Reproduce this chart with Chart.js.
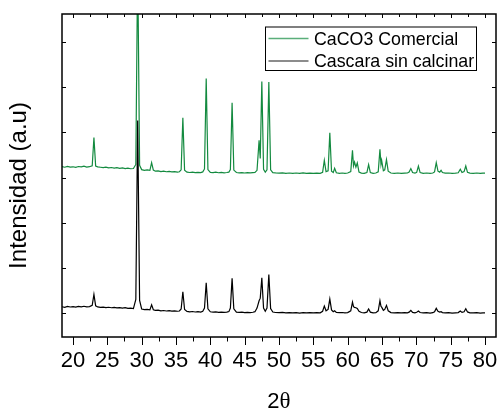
<!DOCTYPE html>
<html>
<head>
<meta charset="utf-8">
<script src="https://cdn.jsdelivr.net/npm/chart.js@4"></script>
<style>
  html, body { margin: 0; padding: 0; background: #fff; }
  #grafico { display: block; }
</style>
</head>
<body>
<canvas id="grafico" width="499" height="410"></canvas>
<script>
// Datos leídos del difractograma: [2theta, intensidad]
// (la curva verde ya está desplazada hacia arriba, como en la figura)
const caco3Comercial = [
  [18.4, 3240], [18.8, 3228], [19.2, 3245], [19.6, 3232], [20.0, 3238], [20.4, 3226], [20.8, 3244],
  [21.2, 3236], [21.6, 3250], [22.0, 3232], [22.4, 3240], [22.8, 3262], [23.05, 3883], [23.3, 3252],
  [23.6, 3236], [24.0, 3228], [24.4, 3220], [24.8, 3232], [25.2, 3214], [25.6, 3222], [26.0, 3210],
  [26.4, 3218], [26.8, 3205], [27.2, 3212], [27.6, 3198], [28.0, 3206], [28.4, 3194], [28.8, 3200],
  [29.15, 3290], [29.42, 7800], [29.7, 3270], [30.0, 3175], [30.4, 3160], [30.8, 3168], [31.2, 3158],
  [31.45, 3330], [31.7, 3165], [32.0, 3140], [32.4, 3146], [32.8, 3132], [33.2, 3140], [33.6, 3128],
  [34.0, 3136], [34.4, 3125], [34.8, 3132], [35.2, 3122], [35.5, 3128], [35.75, 3170], [36.0, 4325],
  [36.25, 3160], [36.6, 3120], [37.0, 3112], [37.4, 3120], [37.8, 3108], [38.2, 3116], [38.6, 3110],
  [38.9, 3125], [39.15, 3190], [39.4, 5194], [39.65, 3175], [40.0, 3115], [40.4, 3108], [40.8, 3118],
  [41.2, 3106], [41.6, 3114], [42.0, 3104], [42.4, 3112], [42.7, 3120], [42.92, 3175], [43.17, 4656],
  [43.42, 3165], [43.8, 3112], [44.2, 3104], [44.6, 3110], [45.0, 3100], [45.4, 3108], [45.8, 3102],
  [46.2, 3110], [46.5, 3115], [46.8, 3160], [47.1, 3823], [47.27, 3420], [47.5, 5127], [47.75, 3180],
  [48.0, 3120], [48.25, 3170], [48.52, 5112], [48.78, 3170], [49.1, 3110], [49.5, 3102], [50.0, 3096],
  [50.5, 3104], [51.0, 3094], [51.5, 3100], [52.0, 3092], [52.5, 3100], [53.0, 3094], [53.5, 3102],
  [54.0, 3092], [54.5, 3098], [55.0, 3090], [55.5, 3098], [56.0, 3094], [56.35, 3115], [56.6, 3381],
  [56.85, 3130], [57.15, 3150], [57.4, 3993], [57.65, 3140], [57.9, 3110], [58.1, 3204], [58.35, 3105],
  [58.8, 3094], [59.2, 3100], [59.6, 3092], [60.0, 3100], [60.45, 3130], [60.7, 3602], [60.85, 3260],
  [61.0, 3344], [61.2, 3230], [61.4, 3322], [61.65, 3120], [62.0, 3098], [62.4, 3092], [62.8, 3110],
  [63.05, 3286], [63.3, 3110], [63.7, 3094], [64.1, 3100], [64.45, 3125], [64.7, 3624], [64.85, 3290],
  [64.95, 3381], [65.2, 3150], [65.4, 3170], [65.65, 3397], [65.9, 3140], [66.3, 3100], [66.8, 3094],
  [67.3, 3100], [67.8, 3092], [68.3, 3098], [68.7, 3100], [68.95, 3120], [69.2, 3198], [69.45, 3110],
  [69.8, 3096], [70.05, 3115], [70.3, 3255], [70.55, 3110], [71.0, 3094], [71.5, 3100], [72.0, 3092],
  [72.4, 3100], [72.65, 3125], [72.9, 3330], [73.15, 3140], [73.4, 3120], [73.6, 3160], [73.8, 3110],
  [74.2, 3096], [74.7, 3100], [75.2, 3092], [75.7, 3098], [76.1, 3105], [76.4, 3182], [76.65, 3110],
  [76.95, 3130], [77.2, 3255], [77.45, 3115], [77.8, 3098], [78.3, 3094], [78.8, 3100], [79.3, 3092],
  [79.7, 3098], [80.0, 3096]
];

const cascaraSinCalcinar = [
  [18.4, 140], [18.8, 128], [19.2, 146], [19.6, 134], [20.0, 142], [20.4, 130], [20.8, 148],
  [21.2, 136], [21.6, 150], [22.0, 138], [22.4, 144], [22.8, 170], [23.05, 413], [23.3, 160],
  [23.6, 136], [24.0, 126], [24.4, 132], [24.8, 120], [25.2, 128], [25.6, 118], [26.0, 126],
  [26.4, 114], [26.8, 122], [27.2, 110], [27.6, 118], [28.0, 104], [28.4, 110], [28.8, 98],
  [29.15, 300], [29.42, 4265], [29.7, 280], [30.0, 90], [30.4, 76], [30.8, 82], [31.2, 70],
  [31.45, 183], [31.7, 74], [32.0, 58], [32.4, 64], [32.8, 50], [33.2, 56], [33.6, 46],
  [34.0, 52], [34.4, 42], [34.8, 48], [35.2, 40], [35.5, 46], [35.75, 90], [36.0, 471],
  [36.25, 80], [36.6, 36], [37.0, 28], [37.4, 34], [37.8, 24], [38.2, 30], [38.6, 22],
  [38.9, 40], [39.15, 110], [39.4, 670], [39.65, 95], [40.0, 28], [40.4, 20], [40.8, 26],
  [41.2, 16], [41.6, 22], [42.0, 14], [42.4, 20], [42.7, 32], [42.92, 110], [43.17, 767],
  [43.42, 95], [43.8, 22], [44.2, 14], [44.6, 20], [45.0, 10], [45.4, 16], [45.8, 10],
  [46.2, 18], [46.5, 30], [46.8, 110], [47.1, 272], [47.27, 330], [47.5, 780], [47.75, 110],
  [48.0, 40], [48.25, 110], [48.52, 855], [48.78, 100], [49.1, 22], [49.5, 12], [50.0, 8],
  [50.5, 14], [51.0, 4], [51.5, 10], [52.0, 2], [52.5, 8], [53.0, 0], [53.5, 8],
  [54.0, 2], [54.5, 10], [55.0, 4], [55.5, 10], [56.0, 6], [56.35, 40], [56.6, 155],
  [56.85, 50], [57.15, 80], [57.4, 309], [57.65, 70], [57.9, 30], [58.1, 51], [58.35, 15],
  [58.8, 8], [59.2, 12], [59.6, 4], [60.0, 10], [60.45, 50], [60.7, 243], [60.85, 140],
  [61.0, 125], [61.2, 117], [61.4, 100], [61.65, 40], [62.0, 12], [62.4, 6], [62.8, 20],
  [63.05, 88], [63.3, 20], [63.7, 6], [64.1, 10], [64.45, 50], [64.7, 272], [64.85, 150],
  [64.95, 130], [65.2, 60], [65.4, 80], [65.65, 170], [65.9, 50], [66.3, 10], [66.8, 4],
  [67.3, 10], [67.8, 2], [68.3, 8], [68.7, 6], [68.95, 20], [69.2, 60], [69.45, 16],
  [69.8, 6], [70.05, 18], [70.3, 44], [70.55, 12], [71.0, 2], [71.5, 8], [72.0, 0],
  [72.4, 8], [72.65, 30], [72.9, 104], [73.15, 40], [73.4, 22], [73.6, 30], [73.8, 10],
  [74.2, 4], [74.7, 10], [75.2, 0], [75.7, 6], [76.1, 10], [76.4, 44], [76.65, 14],
  [76.95, 30], [77.2, 95], [77.45, 25], [77.8, 6], [78.3, 2], [78.8, 8], [79.3, 0],
  [79.7, 6], [80.0, 4]
];

const nombresSeries = ['CaCO3 Comercial', 'Cascara sin calcinar'];
const marcasX = [20, 25, 30, 35, 40, 45, 50, 55, 60, 65, 70, 75, 80];
const marcasY = [0, 1000, 2000, 3000, 4000, 5000, 6000];

const VERDE = '#138a3f';
const NEGRO = '#000000';
const FUENTE = '"Liberation Sans", Arial, sans-serif';

// Marco, marcas de los ejes, leyenda y títulos
const marcoEjes = {
  id: 'marcoEjes',
  afterDraw(chart) {
    const { ctx, chartArea: a, scales: { x, y } } = chart;
    ctx.save();
    ctx.strokeStyle = '#000';
    ctx.lineWidth = 1.5;
    ctx.strokeRect(a.left, a.top, a.right - a.left, a.bottom - a.top);

    ctx.lineWidth = 1;
    ctx.beginPath();
    marcasX.forEach(v => {
      [v, v + 2.5].forEach((t, i) => {
        if (t > x.max) return;
        const px = Math.round(x.getPixelForValue(t)) + 0.5;
        ctx.moveTo(px, a.bottom);
        ctx.lineTo(px, a.bottom + (i === 0 ? 8 : 4.5));
        ctx.moveTo(px, a.top);
        ctx.lineTo(px, a.top + (i === 0 ? 4 : 3));
      });
    });
    marcasY.forEach(v => {
      const py = Math.round(y.getPixelForValue(v)) + 0.5;
      ctx.moveTo(a.left, py);
      ctx.lineTo(a.left + 4, py);
      ctx.moveTo(a.right, py);
      ctx.lineTo(a.right - 4, py);
    });
    ctx.stroke();

    // leyenda
    const lx = a.right - 230.5, ly = a.top + 13;
    ctx.fillStyle = '#fff';
    ctx.fillRect(lx, ly, 211, 43.5);
    ctx.strokeStyle = '#000';
    ctx.lineWidth = 1;
    ctx.strokeRect(lx, ly, 211, 43.5);
    const colores = ['#5aae7a', '#666666'];
    ctx.font = '17.8px ' + FUENTE;
    ctx.textAlign = 'left';
    ctx.textBaseline = 'alphabetic';
    nombresSeries.forEach((nombre, i) => {
      const yy = ly + 11.5 + i * 22.5;
      ctx.strokeStyle = colores[i];
      ctx.lineWidth = 1.5;
      ctx.beginPath();
      ctx.moveTo(lx + 3, yy);
      ctx.lineTo(lx + 43, yy);
      ctx.stroke();
      ctx.fillStyle = '#000';
      ctx.fillText(nombre, lx + 48.5, yy + 6.8 - i * 0.8);
    });

    // título eje x: 2θ
    ctx.fillStyle = '#000';
    ctx.font = '22px ' + FUENTE;
    const w2 = ctx.measureText('2').width;
    ctx.font = '23px "Liberation Serif", serif';
    const wt = ctx.measureText('θ').width;
    const cx = (a.left + a.right) / 2 - (w2 + wt) / 2;
    const by = a.bottom + 71;
    ctx.font = '22px ' + FUENTE;
    ctx.fillText('2', cx, by);
    ctx.font = '23px "Liberation Serif", serif';
    ctx.fillText('θ', cx + w2, by);

    // título eje y
    ctx.font = '24px ' + FUENTE;
    ctx.translate(26, 185.5);
    ctx.rotate(-Math.PI / 2);
    ctx.textAlign = 'center';
    ctx.fillText('Intensidad (a.u)', 0, 0);
    ctx.restore();
  }
};

const ctx = document.getElementById('grafico');
new Chart(ctx, {
  type: 'line',
  data: {
    datasets: [
      {
        label: nombresSeries[1],
        data: cascaraSinCalcinar.map(p => ({ x: p[0], y: p[1] })),
        borderColor: NEGRO,
        borderWidth: 1.2,
        pointRadius: 0,
        tension: 0,
        order: 1
      },
      {
        label: nombresSeries[0],
        data: caco3Comercial.map(p => ({ x: p[0], y: p[1] })),
        borderColor: VERDE,
        borderWidth: 1.2,
        pointRadius: 0,
        tension: 0,
        order: 2
      }
    ]
  },
  options: {
    responsive: false,
    animation: false,
    layout: { padding: { left: 62, right: 3, top: 14, bottom: 37.6 } },
    plugins: { legend: { display: false }, tooltip: { enabled: false } },
    scales: {
      x: {
        type: 'linear',
        min: 18.4,
        max: 81.6,
        afterBuildTicks: axis => { axis.ticks = marcasX.map(v => ({ value: v })); },
        afterFit: axis => {
          axis.height = 35.4;
          axis.paddingLeft = 0;
          axis.paddingRight = 0;
        },
        grid: { display: false, drawTicks: false },
        border: { display: false },
        ticks: {
          autoSkip: false,
          maxRotation: 0,
          padding: 10.5,
          color: '#000',
          font: { family: FUENTE, size: 22 }
        }
      },
      y: {
        display: false,
        min: -530,
        max: 6620
      }
    }
  },
  plugins: [marcoEjes]
});
</script>
</body>
</html>
